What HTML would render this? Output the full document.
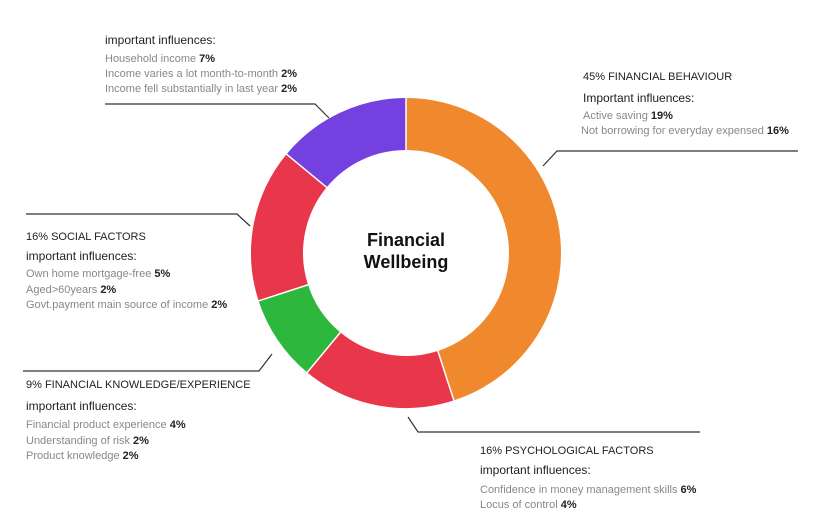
<!DOCTYPE html>
<html><head><meta charset="utf-8"><style>
body{margin:0;width:830px;height:532px;background:#fff;position:relative;overflow:hidden;font-family:"Liberation Sans",sans-serif}
.t{position:absolute;white-space:nowrap;color:#222;font-size:12px;line-height:14px}
.h{font-size:11px}
.g{position:absolute;white-space:nowrap;color:#888;font-size:11px;line-height:12px}
.g b{color:#222}
</style></head><body>
<svg width="830" height="532" style="position:absolute;left:0;top:0">
<g transform="translate(406,253) rotate(-90)" fill="none" stroke-width="52">
<circle r="129" stroke="#F0892E" stroke-dasharray="364.7 900" />
<circle r="129" stroke="#E8374A" stroke-dasharray="129.7 900" transform="rotate(162)"/>
<circle r="129" stroke="#2DB83D" stroke-dasharray="72.9 900" transform="rotate(219.6)"/>
<circle r="129" stroke="#E8374A" stroke-dasharray="129.7 900" transform="rotate(252)"/>
<circle r="129" stroke="#7440DF" stroke-dasharray="113.5 900" transform="rotate(309.6)"/>
</g>
<g transform="translate(406,253)" stroke="#fff" stroke-width="1.5">
<line x1="0" y1="-102" x2="0" y2="-156"/>
<line x1="0" y1="-102" x2="0" y2="-156" transform="rotate(162)"/>
<line x1="0" y1="-102" x2="0" y2="-156" transform="rotate(219.6)"/>
<line x1="0" y1="-102" x2="0" y2="-156" transform="rotate(252)"/>
<line x1="0" y1="-102" x2="0" y2="-156" transform="rotate(309.6)"/>
</g>
<g stroke="#333" stroke-width="1.2" fill="none">
<polyline points="105,104 315,104 329,118"/>
<polyline points="26,214 237,214 250,226"/>
<polyline points="23,371 259,371 272,354"/>
<polyline points="408,417 418,432 700,432"/>
<polyline points="543,166 557,151 798,151"/>
</g>
<text x="406" y="246" text-anchor="middle" font-family="Liberation Sans" font-weight="bold" font-size="18" fill="#111">Financial</text>
<text x="406" y="268" text-anchor="middle" font-family="Liberation Sans" font-weight="bold" font-size="18" fill="#111">Wellbeing</text>
</svg>

<div class="t" style="left:105px;top:33px">important influences:</div>
<div class="g" style="left:105px;top:53px">Household income <b>7%</b></div>
<div class="g" style="left:105px;top:68px">Income varies a lot month-to-month <b>2%</b></div>
<div class="g" style="left:105px;top:83px">Income fell substantially in last year <b>2%</b></div>

<div class="t h" style="left:583px;top:70px">45% FINANCIAL BEHAVIOUR</div>
<div class="t" style="left:583px;top:91px">Important influences:</div>
<div class="g" style="left:583px;top:110px">Active saving <b>19%</b></div>
<div class="g" style="left:581px;top:125px">Not borrowing for everyday expensed <b>16%</b></div>

<div class="t h" style="left:26px;top:230px">16% SOCIAL FACTORS</div>
<div class="t" style="left:26px;top:249px">important influences:</div>
<div class="g" style="left:26px;top:268px">Own home mortgage-free <b>5%</b></div>
<div class="g" style="left:26px;top:284px">Aged&gt;60years <b>2%</b></div>
<div class="g" style="left:26px;top:299px">Govt.payment main source of income <b>2%</b></div>

<div class="t h" style="left:26px;top:378px">9% FINANCIAL KNOWLEDGE/EXPERIENCE</div>
<div class="t" style="left:26px;top:399px">important influences:</div>
<div class="g" style="left:26px;top:419px">Financial product experience <b>4%</b></div>
<div class="g" style="left:26px;top:435px">Understanding of risk <b>2%</b></div>
<div class="g" style="left:26px;top:450px">Product knowledge <b>2%</b></div>

<div class="t h" style="left:480px;top:444px">16% PSYCHOLOGICAL FACTORS</div>
<div class="t" style="left:480px;top:463px">important influences:</div>
<div class="g" style="left:480px;top:484px">Confidence in money management skills <b>6%</b></div>
<div class="g" style="left:480px;top:499px">Locus of control <b>4%</b></div>
</body></html>
